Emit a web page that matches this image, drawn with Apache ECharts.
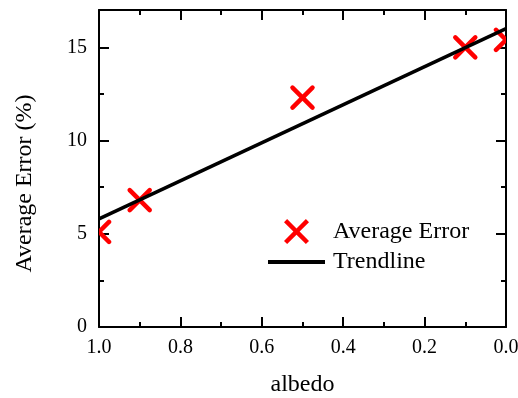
<!DOCTYPE html>
<html>
<head>
<meta charset="utf-8">
<script src="https://cdn.jsdelivr.net/npm/echarts@6/dist/echarts.min.js"></script>
<style>
  html, body { margin: 0; padding: 0; background: #fff; }
  #chart { width: 518px; height: 398px; }
</style>
</head>
<body>
<div id="chart"></div>
<script>
// measured values
const albedo = [1.0, 0.9, 0.5, 0.1, 0.0];
const avgError = [5.1, 6.8, 12.3, 15.0, 15.4];
const trendX = [1.0, 0.0];
const trendY = [5.8, 16.0];

const font = "Liberation Serif";
const crossPath = "path://M2.5,0L10,7.5L17.5,0L20,2.5L12.5,10L20,17.5L17.5,20L10,12.5L2.5,20L0,17.5L7.5,10L0,2.5Z";
const barPath = "path://M0,0H57V4H0Z";

const chart = echarts.init(document.getElementById("chart"));

const frameLine = { onZero: false, lineStyle: { color: "#000", width: 2 } };
const tick = { inside: true, length: 10, lineStyle: { color: "#000", width: 2 } };
const minor = { show: true, splitNumber: 2, length: 5, lineStyle: { color: "#000", width: 2 } };

const xBase = {
  type: "value",
  min: 0,
  max: 1,
  interval: 0.2,
  inverse: true,
  axisLine: frameLine,
  axisTick: tick,
  minorTick: minor,
  splitLine: { show: false },
};
const yBase = {
  type: "value",
  min: 0,
  max: 17,
  interval: 5,
  axisLine: frameLine,
  axisTick: tick,
  minorTick: minor,
  splitLine: { show: false },
};

// red X marker, clipped to the plot area like the original
function renderCross(params, api) {
  const [cx, cy] = api.coord([api.value(0), api.value(1)]);
  const r = 10;
  const style = { stroke: "#ff0000", lineWidth: 4.5, lineCap: "round" };
  const cs = params.coordSys;
  return {
    type: "group",
    clipPath: { type: "rect", shape: { x: cs.x, y: cs.y, width: cs.width, height: cs.height } },
    children: [
      { type: "line", shape: { x1: cx - r, y1: cy - r, x2: cx + r, y2: cy + r }, style },
      { type: "line", shape: { x1: cx - r, y1: cy + r, x2: cx + r, y2: cy - r }, style },
    ],
  };
}

chart.setOption({
  animation: false,
  textStyle: { fontFamily: font },
  grid: { left: 99, right: 12, top: 10, bottom: 71, outerBoundsMode: "none", containLabel: false },
  legend: {
    orient: "vertical",
    left: 263,
    top: 214,
    itemWidth: 57,
    itemHeight: 25,
    itemGap: 6,
    textStyle: { fontFamily: font, fontSize: 24, color: "#000", padding: [0, 0, 0, 3] },
    data: [
      { name: "Average Error", icon: crossPath, itemStyle: { color: "#ff0000" } },
      { name: "Trendline", icon: barPath, itemStyle: { color: "#000" } },
    ],
  },
  xAxis: [
    {
      ...xBase,
      position: "bottom",
      name: "albedo",
      nameLocation: "middle",
      nameGap: 46,
      nameTextStyle: { fontFamily: font, fontSize: 24, color: "#000" },
      axisLabel: {
        color: "#000",
        fontFamily: font,
        fontSize: 20,
        margin: 11,
        formatter: (v) => v.toFixed(1),
      },
    },
    { ...xBase, position: "top", axisLabel: { show: false } },
  ],
  yAxis: [
    {
      ...yBase,
      position: "left",
      name: "Average Error (%)",
      nameLocation: "middle",
      nameGap: 62,
      nameTextStyle: { fontFamily: font, fontSize: 24, color: "#000", padding: [0, 30, 0, 0] },
      axisLabel: {
        color: "#000",
        fontFamily: font,
        fontSize: 20,
        margin: 12,
        showMaxLabel: false,
      },
    },
    { ...yBase, position: "right", axisLabel: { show: false } },
  ],
  series: [
    {
      name: "Average Error",
      type: "custom",
      renderItem: renderCross,
      itemStyle: { color: "#ff0000" },
      encode: { x: 0, y: 1 },
      data: albedo.map((a, i) => [a, avgError[i]]),
    },
    {
      name: "Trendline",
      type: "line",
      symbol: "none",
      lineStyle: { color: "#000", width: 3.5 },
      itemStyle: { color: "#000" },
      clip: true,
      data: trendX.map((a, i) => [a, trendY[i]]),
    },
  ],
});
</script>
</body>
</html>
